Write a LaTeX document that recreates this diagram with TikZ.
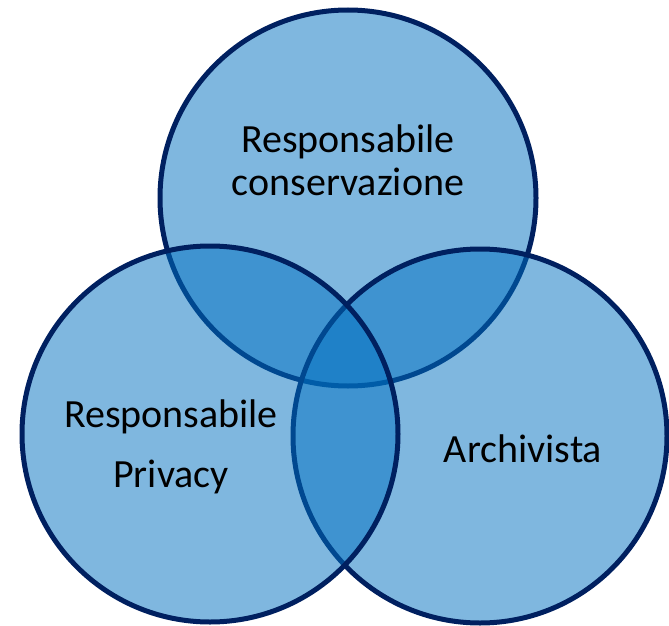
\documentclass[tikz,border=0pt]{standalone}
\usepackage{fontspec}
\setmainfont{Carlito}
\usepackage{xcolor}
\definecolor{vennblu}{RGB}{0,112,192}
\definecolor{vennnavy}{RGB}{0,32,96}

\begin{document}
\begin{tikzpicture}[x=1pt, y=-1pt,
					venn/.style = {draw=vennnavy, line width=5pt,
						fill=vennblu, fill opacity=0.5},
					every node/.style = {align=center, anchor=base,
						font=\fontsize{40}{43}\selectfont}]
					\useasboundingbox (0,0) rectangle (669,626);
					% top, right, left
					\draw[venn] (348,198) circle (188);
					\draw[venn] (480,436) circle (187);
					\draw[venn] (210,434) circle (188);
					\node (cons) at (348,195) {Responsabile\\conservazione};
					\node[font=\fontsize{40}{60}\selectfont] (priv) at (171,487) {Responsabile\\Privacy};
					\node (arch) at (523,462) {Archivista};
				\end{tikzpicture}
\end{document}
